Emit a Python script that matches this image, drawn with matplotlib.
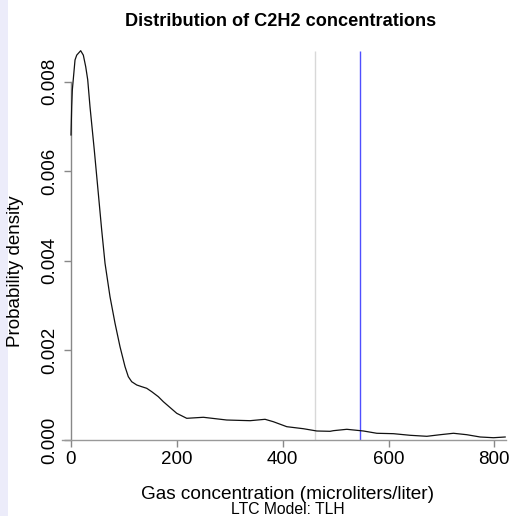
import matplotlib
matplotlib.use("Agg")
import matplotlib.pyplot as plt
from matplotlib.patches import Rectangle

plt.rcParams['font.family'] = ['Liberation Sans', 'DejaVu Sans']

# Density curve (x: µl/l, y: density)
conc = [0, 1.3, 2.5, 7.6, 10.8, 18.3, 23.3, 27.8, 31.6, 35.9, 44.0, 51.6, 58.0,
        64.3, 73.7, 83.2, 92.6, 102.1, 108.3, 114.7, 124.2, 133.6, 143.1, 152.6,
        165.0, 174.5, 199.8, 218.7, 250.1, 294.3, 338.4, 366.7, 382.4, 407.8,
        439.1, 464.5, 489.6, 495.8, 521.2, 552.6, 577.9, 609.3, 640.8, 672.4,
        697.5, 722.7, 748.0, 773.2, 798.3, 820.4]
density = [0.006808, 0.007440, 0.007810, 0.008482, 0.008590, 0.008689, 0.008590,
           0.008332, 0.008040, 0.007440, 0.006473, 0.005506, 0.004687, 0.003944,
           0.003199, 0.002605, 0.002083, 0.001636, 0.001413, 0.001301, 0.001228,
           0.001190, 0.001154, 0.001078, 0.000967, 0.000855, 0.000596, 0.000484,
           0.000507, 0.000446, 0.000431, 0.000462, 0.000408, 0.000297, 0.000252,
           0.000201, 0.000194, 0.000208, 0.000239, 0.000201, 0.000150, 0.000141,
           0.000105, 0.0000826, 0.000118, 0.000150, 0.000118, 0.000067, 0.000051,
           0.000067]

gray_line_x = 461
blue_line_x = 547

x_ticks = [0, 200, 400, 600, 800]
y_ticks = [0.000, 0.002, 0.004, 0.006, 0.008]
y_tick_labels = ["0.000", "0.002", "0.004", "0.006", "0.008"]

title = "Distribution of C2H2 concentrations"
xlabel = "Gas concentration (microliters/liter)"
ylabel = "Probability density"
subtitle = "LTC Model: TLH"

W, H = 529, 516
fig = plt.figure(figsize=(W / 100, H / 100), dpi=100)
fig.patches.append(Rectangle((0, 0), 7.5 / W, 1, transform=fig.transFigure,
                             facecolor='#ececfa', edgecolor='none', zorder=-10))

ax = fig.add_axes([62 / W, (H - 440) / H, (506 - 62) / W, (440 - 50.7) / H])
ymax = max(density)
ax.set_xlim(-17, 822)
ax.set_ylim(0, ymax)

ax.plot(conc, density, color='#111111', lw=0.9, clip_on=False, zorder=3,
        solid_joinstyle='round')
ax.vlines([gray_line_x], 0, ymax, color='#d8d8d8', lw=1.0, clip_on=False, zorder=2)
ax.vlines([blue_line_x], 0, ymax, color='#4f4fff', lw=1.0, clip_on=False, zorder=2)

for s in ['top', 'right']:
    ax.spines[s].set_visible(False)
ax.spines['left'].set_position(('data', 0))
ax.spines['left'].set_bounds(0, 0.008)
ax.spines['left'].set_color('#888888')
ax.spines['bottom'].set_color('#999999')
ax.spines['left'].set_linewidth(1.0)
ax.spines['bottom'].set_linewidth(1.0)

ax.set_xticks(x_ticks)
ax.set_xticklabels([str(v) for v in x_ticks])
ax.set_yticks(y_ticks)
ax.set_yticklabels(y_tick_labels, rotation=90, va='center')
ax.tick_params(axis='both', colors='#888888', labelcolor='black', labelsize=13.5,
               length=5, width=1.0)
ax.tick_params(axis='x', pad=3)
ax.tick_params(axis='y', pad=4)

fig.text(281 / W, 1 - 26 / H, title, ha='center', va='baseline',
         fontsize=13.1, fontweight='bold')
fig.text(287.5 / W, 1 - 498.8 / H, xlabel, ha='center', va='baseline', fontsize=13.7)
fig.text(287.5 / W, 1 - 514 / H, subtitle, ha='center', va='baseline', fontsize=11.3)
fig.text(16 / W, 245 / H, ylabel, ha='center', va='center', rotation=90, fontsize=13.5)

fig.savefig("out.png", dpi=100)
